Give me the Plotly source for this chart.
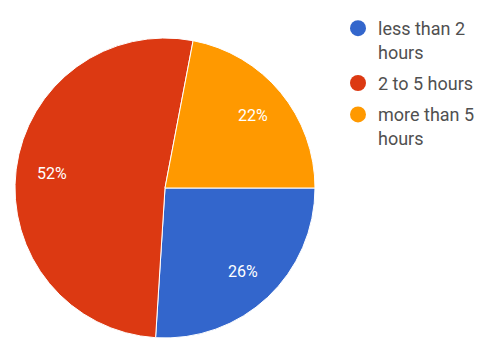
import math
import plotly.graph_objects as go

# Survey answers: time spent per day
categories = ["less than 2 hours", "2 to 5 hours", "more than 5 hours"]
legend_labels = ["less than 2<br>hours", "2 to 5 hours", "more than 5<br>hours"]
shares = [26, 52, 22]
colors = ["#3366cc", "#dc3912", "#ff9900"]

W, H = 482, 338
START_ANGLE = 90          # first slice begins at 3 o'clock, going clockwise
pie_x = [15 / W, 315 / W]
pie_y = [0, 1 - 38 / H]

fig = go.Figure()

fig.add_trace(go.Pie(
    labels=categories,
    values=shares,
    sort=False,
    direction="clockwise",
    rotation=START_ANGLE,
    marker=dict(colors=colors, line=dict(color="#ffffff", width=1)),
    textinfo="none",
    showlegend=False,
    hoverinfo="label+percent",
    domain=dict(x=pie_x, y=pie_y),
))

# Percentage labels placed along each slice's mid-angle
cx_px = (pie_x[0] + pie_x[1]) / 2 * W
cy_px = (1 - (pie_y[0] + pie_y[1]) / 2) * H
radius_px = min((pie_x[1] - pie_x[0]) * W, (pie_y[1] - pie_y[0]) * H) / 2
total = sum(shares)
acc = 0.0
for v in shares:
    mid = START_ANGLE + (acc + v / 2) / total * 360
    acc += v
    a = math.radians(mid)
    px = cx_px + 0.76 * radius_px * math.sin(a)
    py = cy_px - 0.76 * radius_px * math.cos(a)
    fig.add_annotation(
        x=px / W, y=1 - py / H, xref="paper", yref="paper",
        text=f"{round(v / total * 100)}%", showarrow=False,
        xanchor="center", yanchor="middle",
        font=dict(family="Roboto, Arial, sans-serif", size=16, color="#ffffff"),
    )

# Round legend markers, one per category
for name, col in zip(legend_labels, colors):
    fig.add_trace(go.Scatter(
        x=[None], y=[None], mode="markers", name=name,
        legendgroup=name,
        marker=dict(symbol="circle", size=16, color=col),
        showlegend=True, hoverinfo="skip",
    ))

fig.update_layout(
    width=W, height=H,
    margin=dict(l=0, r=0, t=0, b=0),
    paper_bgcolor="#ffffff",
    plot_bgcolor="#ffffff",
    xaxis=dict(visible=False),
    yaxis=dict(visible=False),
    legend=dict(
        x=338 / W, xanchor="left",
        y=1 - 10 / H, yanchor="top",
        valign="top",
        font=dict(family="Roboto, Arial, sans-serif", size=18, color="#505050"),
        bgcolor="rgba(0,0,0,0)",
        itemclick=False,
        tracegroupgap=5,
    ),
)

fig.write_html("out.html")
